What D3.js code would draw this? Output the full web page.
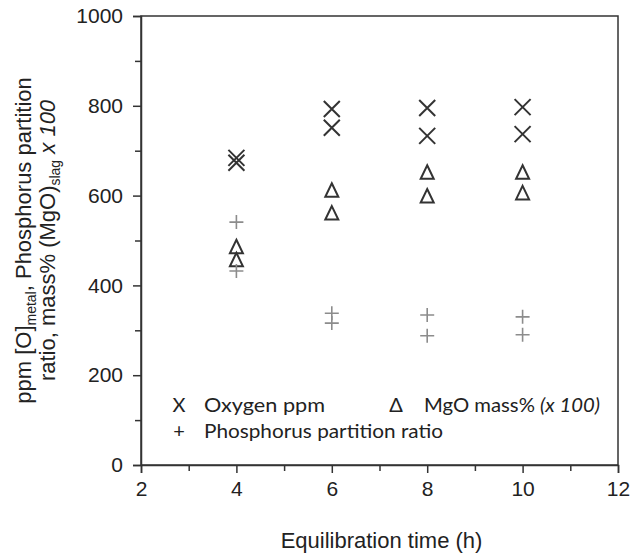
<!DOCTYPE html>
<html>
<head>
<meta charset="utf-8">
<script src="https://cdn.jsdelivr.net/npm/d3@7"></script>
<style>
  html, body { margin: 0; padding: 0; background: #fff; }
  svg { display: block; }
</style>
</head>
<body>
<svg id="chart" width="633" height="556"></svg>
<script>
// ---- data ----
const times = [4, 6, 8, 10];
const oxygenRunA = [684, 793, 795, 797];
const oxygenRunB = [673, 751, 733, 737];
const mgoRunA = [486, 612, 652, 652];
const mgoRunB = [457, 561, 599, 606];
const phosRunA = [541, 338, 334, 330];
const phosRunB = [432, 316, 288, 290];
const xTicks = [2, 4, 6, 8, 10, 12];
const yTicks = [0, 200, 400, 600, 800, 1000];

// ---- layout ----
const svg = d3.select("#chart");
const L = 141, R = 618, T = 16, B = 465;
const x = d3.scaleLinear().domain([2, 12]).range([L, R]);
const y = d3.scaleLinear().domain([0, 1000]).range([B, T]);
const axisColor = "#333";
const tickFont = "Liberation Sans, Arial, sans-serif";

// frame
svg.append("rect").attr("x", L).attr("y", T).attr("width", R - L).attr("height", B - T)
  .attr("fill", "none").attr("stroke", axisColor).attr("stroke-width", 1.5);

// y axis
svg.append("g").attr("transform", `translate(${L},0)`)
  .call(d3.axisLeft(y).tickValues(yTicks).tickSize(8).tickPadding(10).tickFormat(d3.format("d")));
svg.append("g").attr("transform", `translate(${L},0)`)
  .call(d3.axisLeft(y).tickValues(d3.range(100, 1000, 200)).tickSize(6).tickFormat(""))
  .call(g => g.select(".domain").remove());

// x axis
svg.append("g").attr("transform", `translate(0,${B})`)
  .call(d3.axisBottom(x).tickValues(xTicks).tickSize(8).tickPadding(8).tickFormat(d3.format("d")));
svg.append("g").attr("transform", `translate(0,${B})`)
  .call(d3.axisBottom(x).tickValues(d3.range(3, 12, 2)).tickSize(6).tickFormat(""))
  .call(g => g.select(".domain").remove());

svg.selectAll(".domain").attr("stroke", axisColor).attr("stroke-width", 1.5);
svg.selectAll(".tick line").attr("stroke", axisColor).attr("stroke-width", 1.5);
svg.selectAll(".tick text").attr("font-family", tickFont).attr("font-size", 21).attr("fill", "#222");

// axis titles
svg.append("text").attr("x", (L + R) / 2 + 2).attr("y", 548).attr("text-anchor", "middle")
  .attr("font-family", tickFont).attr("font-size", 22).attr("fill", "#222")
  .text("Equilibration time (h)");

const yt = svg.append("text")
  .attr("transform", `translate(0,${(T + B) / 2}) rotate(-90)`)
  .attr("text-anchor", "middle").attr("font-family", tickFont).attr("font-size", 22).attr("fill", "#222");
const l1 = yt.append("tspan").attr("x", 0).attr("y", 31);
l1.append("tspan").text("ppm [O]");
l1.append("tspan").attr("font-size", 14).attr("dy", 5).text("metal");
l1.append("tspan").attr("dy", -5).text(", Phosphorus partition");
const l2 = yt.append("tspan").attr("x", 0).attr("y", 55);
l2.append("tspan").text("ratio, mass% (MgO)");
l2.append("tspan").attr("font-size", 14).attr("dy", 5).text("slag");
l2.append("tspan").attr("dy", -5).text(" ");
l2.append("tspan").attr("font-style", "italic").text("x 100");

// ---- markers ----
const pts = (xs, ys) => xs.map((t, i) => [x(t), y(ys[i])]);
const gO = svg.append("g");
[oxygenRunA, oxygenRunB].forEach(ser => {
  pts(times, ser).forEach(([cx, cy]) => {
    const s = 8;
    gO.append("path").attr("d", `M${cx - s},${cy - s}L${cx + s},${cy + s}M${cx - s},${cy + s}L${cx + s},${cy - s}`)
      .attr("stroke", "#333").attr("stroke-width", 2).attr("fill", "none");
  });
});
const gM = svg.append("g");
[mgoRunA, mgoRunB].forEach(ser => {
  pts(times, ser).forEach(([cx, cy]) => {
    gM.append("path").attr("d", `M${cx},${cy - 7}L${cx + 6.5},${cy + 6.5}L${cx - 6.5},${cy + 6.5}Z`)
      .attr("stroke", "#333").attr("stroke-width", 2).attr("fill", "none");
  });
});
const gP = svg.append("g");
[phosRunA, phosRunB].forEach(ser => {
  pts(times, ser).forEach(([cx, cy]) => {
    const s = 7;
    gP.append("path").attr("d", `M${cx - s},${cy}L${cx + s},${cy}M${cx},${cy - s}L${cx},${cy + s}`)
      .attr("stroke", "#8c8c8c").attr("stroke-width", 1.6).attr("fill", "none");
  });
});

// ---- legend ----
const legFont = "Lato, 'Open Sans', sans-serif";
const leg = svg.append("g").attr("font-family", legFont).attr("font-size", 20).attr("fill", "#222");
leg.append("text").attr("x", 179).attr("y", 412).attr("text-anchor", "middle").text("X");
leg.append("text").attr("x", 204).attr("y", 412).attr("textLength", 121).attr("lengthAdjust", "spacingAndGlyphs").text("Oxygen  ppm");
leg.append("text").attr("x", 396).attr("y", 412).attr("text-anchor", "middle").text("Δ");
const mg = leg.append("text").attr("x", 424).attr("y", 412).attr("textLength", 176).attr("lengthAdjust", "spacingAndGlyphs");
mg.append("tspan").text("MgO mass% ");
mg.append("tspan").attr("font-style", "italic").text("(x 100)");
leg.append("text").attr("x", 179).attr("y", 438).attr("text-anchor", "middle").text("+");
leg.append("text").attr("x", 204).attr("y", 438).attr("textLength", 239).attr("lengthAdjust", "spacingAndGlyphs").text("Phosphorus partition ratio");
</script>
</body>
</html>
